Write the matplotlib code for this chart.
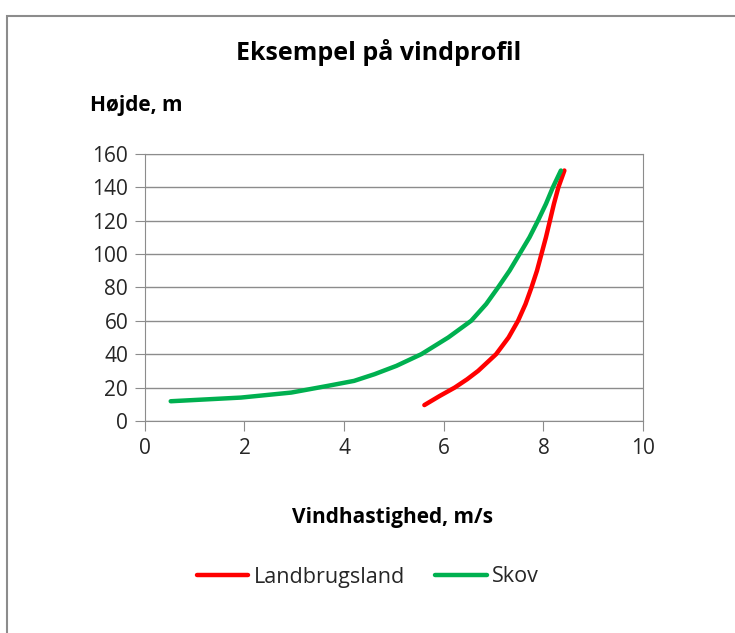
import matplotlib.pyplot as plt
from matplotlib.patches import Rectangle

plt.rcParams['font.family'] = ['Open Sans', 'DejaVu Sans']

# Landbrugsland (red)
land_x = [5.61, 5.92, 6.22, 6.47, 6.69, 7.05, 7.3, 7.49, 7.64, 7.76, 7.87, 7.96, 8.05, 8.13, 8.21, 8.3, 8.42]
land_y = [9.5, 15, 20, 25, 30, 40, 50, 60, 70, 80, 90, 100, 110, 120, 130, 140, 150]

# Skov (green)
skov_x = [0.52, 1.93, 2.94, 3.67, 4.2, 4.61, 5.05, 5.55, 6.09, 6.55, 6.85, 7.09, 7.32, 7.52, 7.72, 7.89, 8.05, 8.19, 8.35]
skov_y = [11.8, 14, 17, 21, 24, 28, 33, 40, 50, 60, 70, 80, 90, 100, 110, 120, 130, 140, 150]

fig = plt.figure(figsize=(7.35, 6.33), dpi=100)
ax = fig.add_axes([0.197, 0.335, 0.678, 0.422])

# grey frame round the chart area
fig.patches.append(Rectangle((7/735, -0.1), 1.0, (633-16)/633 + 0.1, transform=fig.transFigure,
                             fill=False, edgecolor='#8c8c8c', linewidth=1.5))

ax.plot(land_x, land_y, color='#ff0000', linewidth=3.2, solid_capstyle='round', solid_joinstyle='round', label='Landbrugsland')
ax.plot(skov_x, skov_y, color='#00b050', linewidth=3.2, solid_capstyle='round', solid_joinstyle='round', label='Skov')

ax.set_xlim(0, 10)
ax.set_ylim(0, 160)
ax.set_xticks([0, 2, 4, 6, 8, 10])
ax.set_yticks(range(0, 161, 20))
ax.yaxis.grid(True, color='#8c8c8c', linewidth=1)
ax.set_axisbelow(True)
for s in ax.spines.values():
    s.set_color('#8c8c8c')
ax.tick_params(colors='#8c8c8c', length=7, labelsize=15, labelcolor='#262626', pad=5)

fig.text(0.515, 1 - 52/633, 'Eksempel på vindprofil', ha='center', va='center', fontsize=18, fontweight='bold')
fig.text(90/735, 1 - 105/633, 'Højde, m', ha='left', va='center', fontsize=15, fontweight='bold')
fig.text(393/735, 1 - 517/633, 'Vindhastighed, m/s', ha='center', va='center', fontsize=15, fontweight='bold')

fig.legend(loc='center', bbox_to_anchor=(368/735, 1 - 577/633), ncol=2, frameon=False,
           fontsize=15.5, handlelength=2.4, handletextpad=0.25, columnspacing=1.4,
           labelcolor='#262626')

plt.savefig('out.png', dpi=100)
